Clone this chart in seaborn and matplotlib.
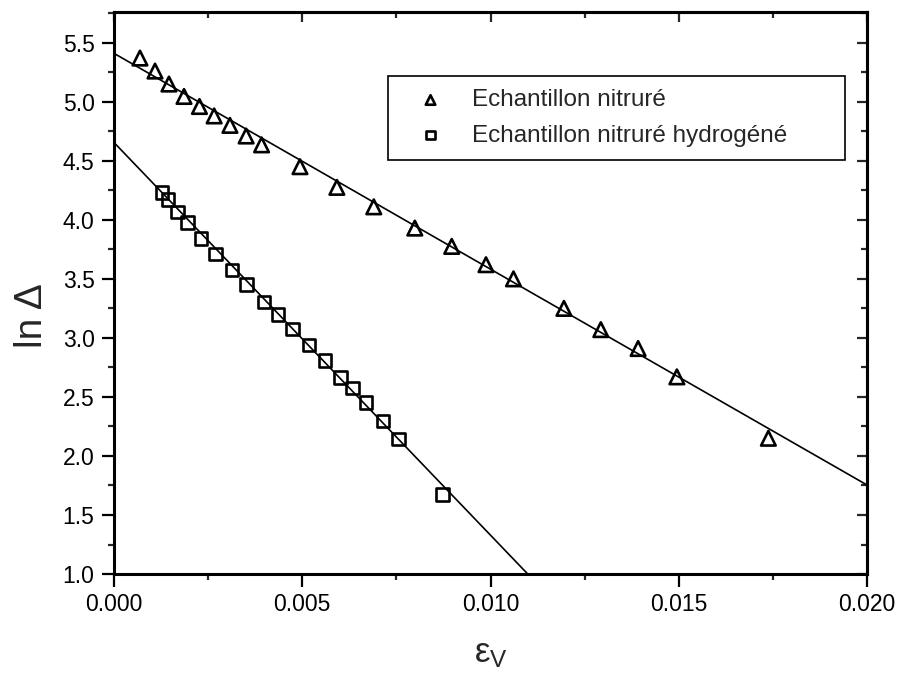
import numpy as np
import pandas as pd
import matplotlib
matplotlib.use("Agg")
import matplotlib.pyplot as plt
from matplotlib.ticker import MultipleLocator, NullFormatter
import seaborn as sns

# Measured points: strain eps_v and ln(Delta)
eps_nitrided = [0.00069, 0.00109, 0.00146, 0.00186, 0.00227, 0.00266, 0.00308,
                0.00351, 0.00392, 0.00494, 0.00592, 0.00690, 0.00799, 0.00897,
                0.00988, 0.01061, 0.01195, 0.01293, 0.01392, 0.01495, 0.01738]
ln_delta_nitrided = [5.37, 5.26, 5.15, 5.045, 4.96, 4.88, 4.80,
                     4.71, 4.635, 4.45, 4.275, 4.11, 3.93, 3.775,
                     3.62, 3.50, 3.25, 3.07, 2.91, 2.67, 2.15]

eps_hydrogenated = [0.00127, 0.00143, 0.00168, 0.00195, 0.00231, 0.00270, 0.00313,
                    0.00352, 0.00398, 0.00436, 0.00474, 0.00518, 0.00560, 0.00602,
                    0.00634, 0.00669, 0.00715, 0.00756, 0.00872]
ln_delta_hydrogenated = [4.23, 4.17, 4.065, 3.977, 3.84, 3.71, 3.575,
                         3.45, 3.305, 3.197, 3.076, 2.94, 2.81, 2.665,
                         2.576, 2.455, 2.297, 2.142, 1.675]

# Linear fits ln(Delta) = a + b * eps_v
fit_nitrided = [5.41, -182.8]
fit_hydrogenated = [4.655, -332.6]

label_nitrided = "Echantillon nitruré"
label_hydrogenated = "Echantillon nitruré hydrogéné"

x_ticks = [0.000, 0.005, 0.010, 0.015, 0.020]
y_ticks = [1.0, 1.5, 2.0, 2.5, 3.0, 3.5, 4.0, 4.5, 5.0, 5.5]

sns.set_style("ticks")
plt.rcParams["font.family"] = ["Liberation Sans", "DejaVu Sans"]
plt.rcParams["mathtext.fontset"] = "custom"
plt.rcParams["mathtext.rm"] = "Liberation Sans"
plt.rcParams["mathtext.it"] = "Liberation Sans"

fig = plt.figure(figsize=(9.01, 6.79), dpi=100)
ax = fig.add_axes([0.1265, 0.1546, 0.8358, 0.8277])

xlim = (0.0, 0.020)
ylim = (1.0, 5.76)

df_n = pd.DataFrame({"eps": eps_nitrided, "lnd": ln_delta_nitrided})
df_h = pd.DataFrame({"eps": eps_hydrogenated, "lnd": ln_delta_hydrogenated})

# Fit lines across the full strain range
x_line = np.array(xlim)
for a, b in (fit_nitrided, fit_hydrogenated):
    sns.lineplot(x=x_line, y=a + b * x_line, ax=ax, color="black", lw=1.2,
                 legend=False, zorder=2)

sns.scatterplot(data=df_n, x="eps", y="lnd", ax=ax, marker="^", s=110,
                facecolor="none", edgecolor="black", linewidth=1.9,
                label=label_nitrided, zorder=3)
sns.scatterplot(data=df_h, x="eps", y="lnd", ax=ax, marker="s", s=82,
                facecolor="none", edgecolor="black", linewidth=1.9,
                label=label_hydrogenated, zorder=3)

ax.set_xlim(*xlim)
ax.set_ylim(*ylim)
ax.set_xticks(x_ticks)
ax.set_xticklabels([f"{v:.3f}" for v in x_ticks])
ax.set_yticks(y_ticks)
ax.set_yticklabels([f"{v:.1f}" for v in y_ticks])
ax.xaxis.set_minor_locator(MultipleLocator(0.0025))
ax.yaxis.set_minor_locator(MultipleLocator(0.25))
ax.tick_params(which="major", direction="out", length=9, width=1.6,
               labelsize=16.5, colors="black", pad=5)
ax.tick_params(which="minor", direction="out", length=4.5, width=1.6)

for sp in ax.spines.values():
    sp.set_linewidth(2.2)
    sp.set_color("black")
    sp.set_visible(True)

# Mirror axes with inward ticks on top and right
secx = ax.secondary_xaxis("top")
secx.set_xticks(x_ticks)
secx.xaxis.set_minor_locator(MultipleLocator(0.0025))
secx.xaxis.set_major_formatter(NullFormatter())
secx.tick_params(which="major", direction="in", length=7, width=1.6)
secx.tick_params(which="minor", direction="in", length=4, width=1.6)
secx.spines["top"].set_linewidth(2.2)

secy = ax.secondary_yaxis("right")
secy.set_yticks(y_ticks)
secy.yaxis.set_minor_locator(MultipleLocator(0.25))
secy.yaxis.set_major_formatter(NullFormatter())
secy.tick_params(which="major", direction="in", length=7, width=1.6)
secy.tick_params(which="minor", direction="in", length=4, width=1.6)
secy.spines["right"].set_linewidth(2.2)

ax.set_xlabel(r"$\mathrm{ε}_{\mathrm{V}}$", fontsize=25, labelpad=15)
ax.set_ylabel("ln Δ", fontsize=28)
ax.yaxis.set_label_coords(-0.085, 0.46)

leg_x0, leg_y1 = 388 / 901, 1 - 76 / 679
leg_w, leg_h = 457 / 901, 81 / 679
leg = ax.legend(loc="upper left", bbox_to_anchor=(leg_x0, leg_y1 - leg_h, leg_w, leg_h),
                bbox_transform=fig.transFigure, mode="expand", borderaxespad=0,
                fontsize=17.5, frameon=True, fancybox=False, edgecolor="black",
                markerscale=0.65, scatterpoints=1, handlelength=2.4,
                handletextpad=0.5, borderpad=0.55, labelspacing=0.55)
leg.get_frame().set_linewidth(1.2)
leg.get_frame().set_alpha(1)

fig.savefig("out.png", dpi=100)
